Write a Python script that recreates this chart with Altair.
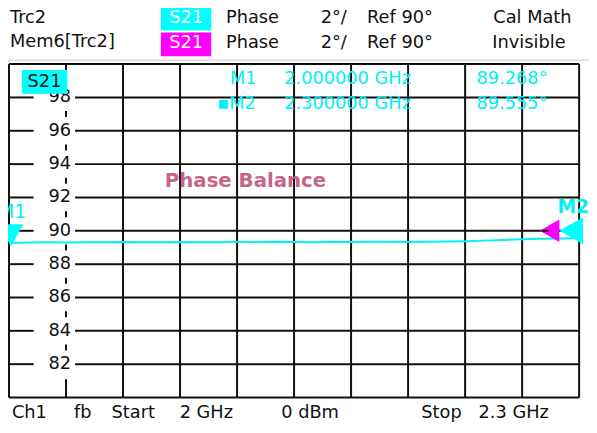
import altair as alt
import pandas as pd

# ---- data ----
freq_ghz = [2.00, 2.01, 2.02, 2.03, 2.04, 2.05, 2.06, 2.07, 2.08, 2.09, 2.10,
            2.11, 2.12, 2.13, 2.14, 2.15, 2.16, 2.17, 2.18, 2.19, 2.20,
            2.21, 2.22, 2.23, 2.24, 2.25, 2.26, 2.27, 2.28, 2.29, 2.30]
phase_deg = [89.268, 89.30, 89.31, 89.30, 89.32, 89.31, 89.33, 89.32, 89.31, 89.33, 89.32,
             89.31, 89.33, 89.32, 89.34, 89.33, 89.32, 89.34, 89.33, 89.35, 89.34,
             89.33, 89.35, 89.36, 89.38, 89.41, 89.45, 89.49, 89.52, 89.54, 89.555]
x_grid = [2.00, 2.06, 2.09, 2.12, 2.15, 2.18, 2.21, 2.24, 2.27, 2.30]
x_dashed = 2.03
y_border = [80, 100]
y_labels = [82, 84, 86, 88, 90, 92, 94, 96, 98]
dash_lows = [82, 84, 86, 88, 90, 92, 94, 96]
ref_level = 90
markers = [{"name": "M1", "f": 2.0, "v": 89.268}, {"name": "M2", "f": 2.3, "v": 89.555}]

W, H = 578, 338
FONT = "DejaVu Sans"
FS = 18
CYAN = "#00F0F8"
BLACK = "#111111"

xs = alt.Scale(domain=[2.0, 2.3], nice=False, zero=False)
ys = alt.Scale(domain=[80, 100], nice=False, zero=False)

trace = pd.DataFrame({"f": freq_ghz, "v": phase_deg})
one = pd.DataFrame({"a": [0]})

layers = []

# vertical solid grid
layers.append(alt.Chart(pd.DataFrame({"f": x_grid})).mark_rule(color=BLACK, strokeWidth=2)
              .encode(x=alt.X("f:Q", scale=xs, axis=None)))
# horizontal borders
layers.append(alt.Chart(pd.DataFrame({"v": y_border})).mark_rule(color=BLACK, strokeWidth=2)
              .encode(y=alt.Y("v:Q", scale=ys, axis=None)))
# horizontal grid split around labels
lab = pd.DataFrame({"v": y_labels})
layers.append(alt.Chart(lab).mark_rule(color=BLACK, strokeWidth=2)
              .encode(y=alt.Y("v:Q", scale=ys, axis=None), x=alt.value(0), x2=alt.value(25)))
layers.append(alt.Chart(lab).mark_rule(color=BLACK, strokeWidth=2)
              .encode(y=alt.Y("v:Q", scale=ys, axis=None), x=alt.value(67), x2=alt.value(W)))
# dashed axis segments
dash = pd.DataFrame({"lo": [d + 0.82 for d in dash_lows] + [80, 98.9],
                     "hi": [d + 1.18 for d in dash_lows] + [81.1, 100]})
dash["f"] = x_dashed
layers.append(alt.Chart(dash).mark_rule(color=BLACK, strokeWidth=2)
              .encode(x=alt.X("f:Q", scale=xs, axis=None),
                      y=alt.Y("lo:Q", scale=ys, axis=None), y2="hi:Q"))
# y labels
layers.append(alt.Chart(lab).mark_text(align="right", baseline="middle", font=FONT,
                                       fontSize=FS, color=BLACK)
              .encode(y=alt.Y("v:Q", scale=ys, axis=None), x=alt.value(63),
                      text=alt.Text("v:Q")))
# trace
layers.append(alt.Chart(trace).mark_line(color=CYAN, strokeWidth=2)
              .encode(x=alt.X("f:Q", scale=xs, axis=None), y=alt.Y("v:Q", scale=ys, axis=None)))

# S21 box inside the plot
layers.append(alt.Chart(one).mark_rect(color="#00FFFF")
              .encode(x=alt.value(13), x2=alt.value(59), y=alt.value(6), y2=alt.value(30)))
layers.append(alt.Chart(one).mark_text(text="S21", font=FONT, fontSize=FS, color=BLACK,
                                       align="center", baseline="middle")
              .encode(x=alt.value(36), y=alt.value(18)))

# markers
mk = pd.DataFrame(markers)
layers.append(alt.Chart(mk[mk.name == "M1"]).mark_point(shape="triangle-down", filled=True,
                                                         size=650, color="#00FFFF", opacity=1,
                                                         yOffset=-8, xOffset=2)
              .encode(x=alt.X("f:Q", scale=xs, axis=None), y=alt.Y("v:Q", scale=ys, axis=None)))
ref = pd.DataFrame({"f": [2.3], "v": [ref_level]})
layers.append(alt.Chart(ref).mark_point(shape="triangle-left", filled=True, size=750,
                                        color="#00FFFF", opacity=1, xOffset=-8)
              .encode(x=alt.X("f:Q", scale=xs, axis=None), y=alt.Y("v:Q", scale=ys, axis=None)))
layers.append(alt.Chart(ref).mark_point(shape="triangle-left", filled=True, size=520,
                                        color="#FF00FF", opacity=1, xOffset=-30)
              .encode(x=alt.X("f:Q", scale=xs, axis=None), y=alt.Y("v:Q", scale=ys, axis=None)))
layers.append(alt.Chart(ref).mark_rule(color=BLACK, strokeWidth=2)
              .encode(y=alt.Y("v:Q", scale=ys, axis=None), x=alt.value(540), x2=alt.value(547)))

# text annotations (pixel offsets relative to plot area)
def txt(s, x, y, color=BLACK, size=FS, weight="normal", align="left"):
    return alt.Chart(one).mark_text(text=s, font=FONT, fontSize=size, color=color,
                                    fontWeight=weight, align=align, baseline="middle") \
        .encode(x=alt.value(x), y=alt.value(y))

def box(x1, x2, y1, y2, color):
    return alt.Chart(one).mark_rect(color=color).encode(
        x=alt.value(x1), x2=alt.value(x2), y=alt.value(y1), y2=alt.value(y2))

layers += [
    txt("M1", -11, 150, CYAN, 19),
    txt("M2", 556, 145, CYAN, 19, "bold"),
    txt("M1", 224, 15, CYAN), txt("2.000000 GHz", 279, 15, CYAN), txt("89.268°", 474, 15, CYAN),
    txt("▪M2", 211, 41, CYAN), txt("2.300000 GHz", 279, 41, CYAN), txt("89.555°", 474, 41, CYAN),
    txt("Phase Balance", 158, 119, "#C8648C", 20, "bold"),
    # header
    txt("Trc2", 1, -47), box(154, 205, -60, -34, "#00FFFF"), txt("S21", 179.5, -47, "white", align="center"),
    txt("Phase", 220, -47), txt("2°/", 316, -47), txt("Ref 90°", 363, -47), txt("Cal Math", 491, -47),
    txt("Mem6[Trc2]", 1, -22), box(154, 205, -32, -8, "#FF00FF"), txt("S21", 179.5, -21, "white", align="center"),
    txt("Phase", 220, -21), txt("2°/", 316, -21), txt("Ref 90°", 363, -21), txt("Invisible", 490, -21),
    # footer
    txt("Ch1", 3, 354), txt("fb", 66, 354), txt("Start", 104, 354), txt("2 GHz", 173, 354),
    txt("0 dBm", 276, 354), txt("Stop", 418, 354), txt("2.3 GHz", 476, 354),
]
layers.append(alt.Chart(one).mark_rule(color="#C8C8C8", strokeWidth=1)
              .encode(x=alt.value(-1), x2=alt.value(588), y=alt.value(-4)))

chart = alt.layer(*layers).properties(
    width=W, height=H,
    autosize=alt.AutoSizeParams(type="none"),
    padding={"left": 1, "top": 54, "right": 10, "bottom": 25},
    background="white",
).configure_view(stroke=None)

chart.save("out.html", embed_options={"renderer": "svg", "actions": False})
